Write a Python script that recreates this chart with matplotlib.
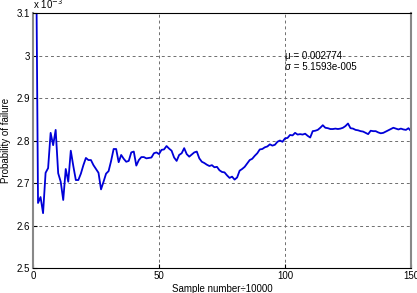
import matplotlib
matplotlib.use("Agg")
import matplotlib.pyplot as plt
import numpy as np

sample_idx = list(range(1, 151))
prob_e3 = [
    3.45, 2.653, 2.667, 2.629, 2.724, 2.735, 2.818, 2.789, 2.825, 2.723,
    2.703, 2.660, 2.733, 2.703, 2.776, 2.740, 2.707, 2.707, 2.722, 2.742,
    2.759, 2.754, 2.754, 2.742, 2.733, 2.724, 2.685, 2.703, 2.722, 2.728,
    2.752, 2.780, 2.780, 2.749, 2.766, 2.757, 2.750, 2.752, 2.772, 2.774,
    2.741, 2.754, 2.761, 2.761, 2.758, 2.759, 2.760, 2.770, 2.772, 2.768,
    2.778, 2.779, 2.787, 2.781, 2.776, 2.760, 2.752, 2.766, 2.770, 2.782,
    2.768, 2.762, 2.767, 2.772, 2.774, 2.758, 2.750, 2.747, 2.743, 2.740,
    2.742, 2.737, 2.738, 2.730, 2.726, 2.725, 2.718, 2.712, 2.715, 2.708,
    2.713, 2.729, 2.733, 2.738, 2.746, 2.754, 2.757, 2.764, 2.770, 2.779,
    2.780, 2.784, 2.786, 2.791, 2.788, 2.790, 2.797, 2.800, 2.797, 2.805,
    2.806, 2.813, 2.812, 2.818, 2.814, 2.815, 2.814, 2.816, 2.811, 2.807,
    2.822, 2.823, 2.825, 2.830, 2.836, 2.830, 2.829, 2.827, 2.827, 2.828,
    2.827, 2.828, 2.830, 2.834, 2.840, 2.829, 2.828, 2.825, 2.824, 2.822,
    2.821, 2.818, 2.815, 2.823, 2.822, 2.822, 2.819, 2.817, 2.818, 2.821,
    2.824, 2.827, 2.830, 2.828, 2.826, 2.828, 2.826, 2.825, 2.829, 2.822,
]
x_ticks = [0, 50, 100, 150]
y_ticks = [2.5, 2.6, 2.7, 2.8, 2.9, 3.0, 3.1]
y_ticklabels = ["2.5", "2.6", "2.7", "2.8", "2.9", "3", "3.1"]
mu_text = "\u03bc = 0.002774"
sigma_text = "\u03c3 = 5.1593e-005"

plt.rcParams['font.family'] = ['Liberation Sans', 'DejaVu Sans']
fig = plt.figure(figsize=(4.17, 2.93), dpi=100)
ax = fig.add_axes([0.0791, 0.0853, 0.9065, 0.8703])
ax.plot(sample_idx, prob_e3, color='#0000d8', lw=1.3)
ax.set_xlim(0, 150)
ax.set_ylim(2.5, 3.1)
ax.set_xticks(x_ticks)
ax.set_xticklabels([str(t) for t in x_ticks])
ax.set_yticks(y_ticks)
ax.set_yticklabels(y_ticklabels)
ax.tick_params(direction='in', labelsize=7, length=3, pad=2)
ax.grid(True, linestyle=(0, (3, 3)), color='#6e6e6e', lw=0.7)
for s in ['left', 'right']:
    ax.spines[s].set_color('#888888')
    ax.spines[s].set_linewidth(1.5)
for s in ['top', 'bottom']:
    ax.spines[s].set_color('black')
    ax.spines[s].set_linewidth(0.8)
ax.text(100, 3.0, mu_text, fontsize=7, va='center', ha='left')
ax.text(100, 2.972, sigma_text, fontsize=7, va='center', ha='left')
ax.set_xlabel("Sample number\u00f710000", fontsize=7, labelpad=2)
ax.set_ylabel("Probability of failure", fontsize=7, labelpad=4)
fig.text(33/417, 1 - 9/293, "x 10$^{-3}$", fontsize=7, va='baseline', ha='left')
fig.savefig("out.png", dpi=100)
